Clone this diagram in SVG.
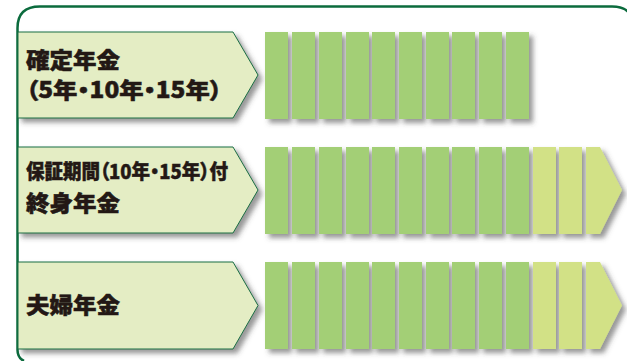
<svg xmlns="http://www.w3.org/2000/svg" width="627" height="361" viewBox="0 0 627 361">
<defs>
<filter id="sh" x="-20%" y="-20%" width="150%" height="150%">
<feDropShadow dx="4" dy="4" stdDeviation="2.5" flood-color="#444" flood-opacity="0.55"/>
</filter>
<style>
.lbl{fill:#e4edc4;stroke:#1a6e45;stroke-width:1}
.bar{fill:#a3cf76}
.bar2{fill:#d2e186}
.t{font-family:"Noto Sans CJK JP","Noto Sans",sans-serif;font-weight:900;fill:#231815;stroke:#231815;stroke-width:0.5;font-feature-settings:"palt" 1}
</style>
</defs>
<rect width="627" height="361" fill="#ffffff"/>
<path id="frame" d="M24,361 Q17.5,358 17.5,350 L17.5,28 Q17.5,6.5 40,6.5 L612,6.5 Q625,6.5 630,14" fill="none" stroke="#0b6b3d" stroke-width="2.5"/>

<g id="row1">
<g filter="url(#sh)">
<polygon class="lbl" points="18,32 233,32 258,75 233,118 18,118"/>
</g>
<text class="t" x="26" y="68" font-size="22" textLength="94" lengthAdjust="spacingAndGlyphs">確定年金</text>
<text class="t" x="26" y="98" font-size="22" textLength="196" lengthAdjust="spacingAndGlyphs">（5年・10年・15年）</text>
<g filter="url(#sh)">
<rect class="bar" x="265" y="32" width="23" height="87"/>
<rect class="bar" x="292" y="32" width="23" height="87"/>
<rect class="bar" x="319" y="32" width="23" height="87"/>
<rect class="bar" x="346" y="32" width="23" height="87"/>
<rect class="bar" x="372" y="32" width="23" height="87"/>
<rect class="bar" x="399" y="32" width="23" height="87"/>
<rect class="bar" x="426" y="32" width="23" height="87"/>
<rect class="bar" x="452" y="32" width="23" height="87"/>
<rect class="bar" x="479" y="32" width="23" height="87"/>
<rect class="bar" x="506" y="32" width="23" height="87"/>
</g>
</g>

<g id="row2">
<g filter="url(#sh)">
<polygon class="lbl" points="18,147 233,147 258,190 233,233 18,233"/>
</g>
<text class="t" x="26" y="179" font-size="20" textLength="202" lengthAdjust="spacingAndGlyphs">保証期間（10年・15年）付</text>
<text class="t" x="26" y="211" font-size="22" textLength="94" lengthAdjust="spacingAndGlyphs">終身年金</text>
<g filter="url(#sh)">
<rect class="bar" x="265" y="147" width="23" height="87"/>
<rect class="bar" x="292" y="147" width="23" height="87"/>
<rect class="bar" x="319" y="147" width="23" height="87"/>
<rect class="bar" x="346" y="147" width="23" height="87"/>
<rect class="bar" x="372" y="147" width="23" height="87"/>
<rect class="bar" x="399" y="147" width="23" height="87"/>
<rect class="bar" x="426" y="147" width="23" height="87"/>
<rect class="bar" x="452" y="147" width="23" height="87"/>
<rect class="bar" x="479" y="147" width="23" height="87"/>
<rect class="bar" x="506" y="147" width="23" height="87"/>
<rect class="bar2" x="533" y="147" width="23" height="87"/>
<rect class="bar2" x="559" y="147" width="23" height="87"/>
<polygon class="bar2" points="586,147 600,147 622,190 600,234 586,234"/>
</g>
</g>

<g id="row3">
<g filter="url(#sh)">
<polygon class="lbl" points="18,262 233,262 258,305.5 233,349 18,349"/>
</g>
<text class="t" x="26" y="313" font-size="22" textLength="94" lengthAdjust="spacingAndGlyphs">夫婦年金</text>
<g filter="url(#sh)">
<rect class="bar" x="265" y="262" width="23" height="87"/>
<rect class="bar" x="292" y="262" width="23" height="87"/>
<rect class="bar" x="319" y="262" width="23" height="87"/>
<rect class="bar" x="346" y="262" width="23" height="87"/>
<rect class="bar" x="372" y="262" width="23" height="87"/>
<rect class="bar" x="399" y="262" width="23" height="87"/>
<rect class="bar" x="426" y="262" width="23" height="87"/>
<rect class="bar" x="452" y="262" width="23" height="87"/>
<rect class="bar" x="479" y="262" width="23" height="87"/>
<rect class="bar" x="506" y="262" width="23" height="87"/>
<rect class="bar2" x="533" y="262" width="23" height="87"/>
<rect class="bar2" x="559" y="262" width="23" height="87"/>
<polygon class="bar2" points="586,262 600,262 622,305.5 600,349 586,349"/>
</g>
</g>
</svg>
